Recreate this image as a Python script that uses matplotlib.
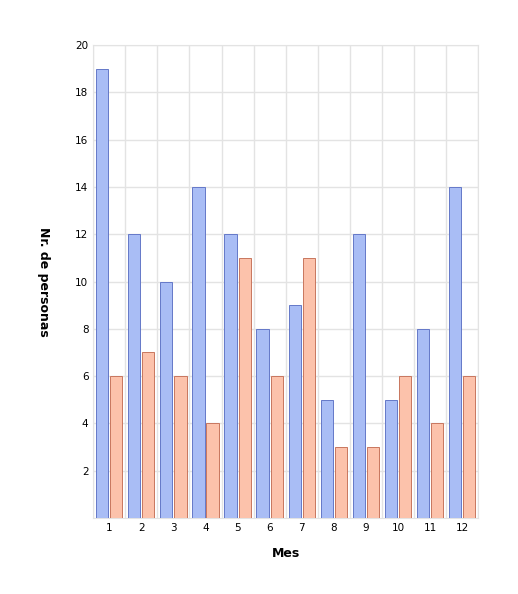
import numpy as np
import matplotlib.pyplot as plt

months = ['1', '2', '3', '4', '5', '6', '7', '8', '9', '10', '11', '12']
serie_a = [19, 12, 10, 14, 12, 8, 9, 5, 12, 5, 8, 14]
serie_b = [6, 7, 6, 4, 11, 6, 11, 3, 3, 6, 4, 6]

fig = plt.figure(figsize=(5.18, 5.94), dpi=100)
ax = fig.add_axes([0.18, 0.128, 0.743, 0.796])

x = np.arange(len(months))
w = 0.38
ax.bar(x - 0.22, serie_a, w, color='#a9bdf5', edgecolor='#6478c8', linewidth=0.7, zorder=3)
ax.bar(x + 0.22, serie_b, w, color='#fcc2ab', edgecolor='#c8765e', linewidth=0.7, zorder=3)

ax.set_xlim(-0.5, len(months) - 0.5)
ax.set_ylim(0, 20)
ax.set_yticks(range(2, 21, 2))
ax.set_xticks(x)
ax.set_xticklabels(months)
ax.set_xticks(np.arange(-0.5, len(months), 1), minor=True)
ax.grid(axis='y', color='#e3e3e3', linewidth=1, zorder=0)
ax.grid(axis='x', which='minor', color='#e3e3e3', linewidth=1, zorder=0)
ax.tick_params(which='both', length=0, labelsize=7.5)
for s in ax.spines.values():
    s.set_color('#e3e3e3')

ax.set_xlabel('Mes', fontweight='bold', fontsize=9, labelpad=10)
ax.set_ylabel('Nr. de personas', fontweight='bold', fontsize=9, rotation=270,
              va='center')
ax.yaxis.set_label_coords(-0.13, 0.5)

fig.savefig('out.png', dpi=100)
